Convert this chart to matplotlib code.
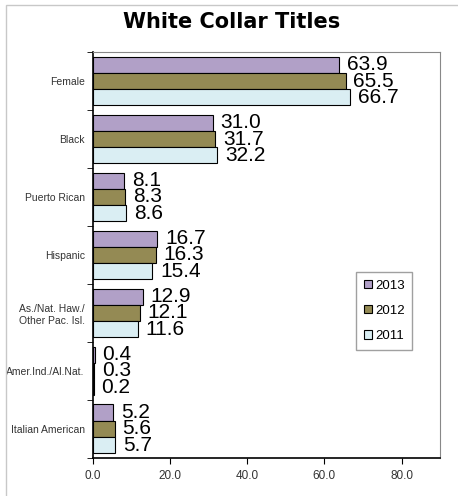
import numpy as np
import matplotlib.pyplot as plt
from matplotlib.patches import Rectangle

categories = ['Female', 'Black', 'Puerto Rican', 'Hispanic',
              'As./Nat. Haw./\nOther Pac. Isl.', 'Amer.Ind./Al.Nat.', 'Italian American']
years = ['2013', '2012', '2011']
v2013 = [63.9, 31.0, 8.1, 16.7, 12.9, 0.4, 5.2]
v2012 = [65.5, 31.7, 8.3, 16.3, 12.1, 0.3, 5.6]
v2011 = [66.7, 32.2, 8.6, 15.4, 11.6, 0.2, 5.7]
colors = ['#B1A0C7', '#948A54', '#DAEEF3']

fig = plt.figure(figsize=(4.58, 4.96), dpi=100)
fig.patches.append(Rectangle((0.013, -0.01), 1.0, 1.0, transform=fig.transFigure,
                             fill=False, edgecolor='#c8c8c8', lw=1))
ax = fig.add_axes([0.203, 0.077, 0.758, 0.818])

y = np.arange(len(categories))
h = 0.28
for i, (vals, c) in enumerate(zip([v2013, v2012, v2011], colors)):
    pos = y - h + i * h
    ax.barh(pos, vals, height=h, color=c, edgecolor='black', lw=0.8, label=years[i])
    for p, v in zip(pos, vals):
        ax.text(v + 2.0, p, f'{v:.1f}', va='center', ha='left', fontsize=15,
                family=['Liberation Sans', 'DejaVu Sans'])

ax.set_ylim(len(categories) - 0.5, -0.5)
ax.set_xlim(0, 90)
ax.set_yticks(y)
ax.set_yticklabels(categories, fontsize=7.5, family=['Liberation Sans Narrow', 'Liberation Sans'],
                   color='#333333')
ax.set_yticks(np.arange(-0.5, len(categories)), minor=True)
ax.tick_params(axis='y', which='major', length=0, pad=6)
ax.tick_params(axis='y', which='minor', length=4, direction='out')
ax.set_xticks([0, 20, 40, 60, 80])
ax.set_xticklabels(['0.0', '20.0', '40.0', '60.0', '80.0'], fontsize=8.5,
                   family=['Liberation Sans Narrow', 'Liberation Sans'], color='#333333')
ax.tick_params(axis='x', length=4, direction='out', pad=5)
for s in ['top', 'right']:
    ax.spines[s].set_color('#888888')
ax.spines['left'].set_linewidth(1.2)
ax.spines['bottom'].set_linewidth(1.2)

fig.text(0.505, 0.956, 'White Collar Titles', fontsize=15, fontweight='heavy',
         family=['DejaVu Sans'], ha='center', va='center')
ax.legend(loc='upper left', bbox_to_anchor=(0.74, 0.475), fontsize=9,
          frameon=True, fancybox=False, edgecolor='#888888', handlelength=0.6,
          handleheight=0.6, handletextpad=0.2, labelspacing=1.0, borderpad=0.6,
          prop={'family': 'Liberation Sans', 'size': 9.5})

fig.savefig('out.png', dpi=100)
